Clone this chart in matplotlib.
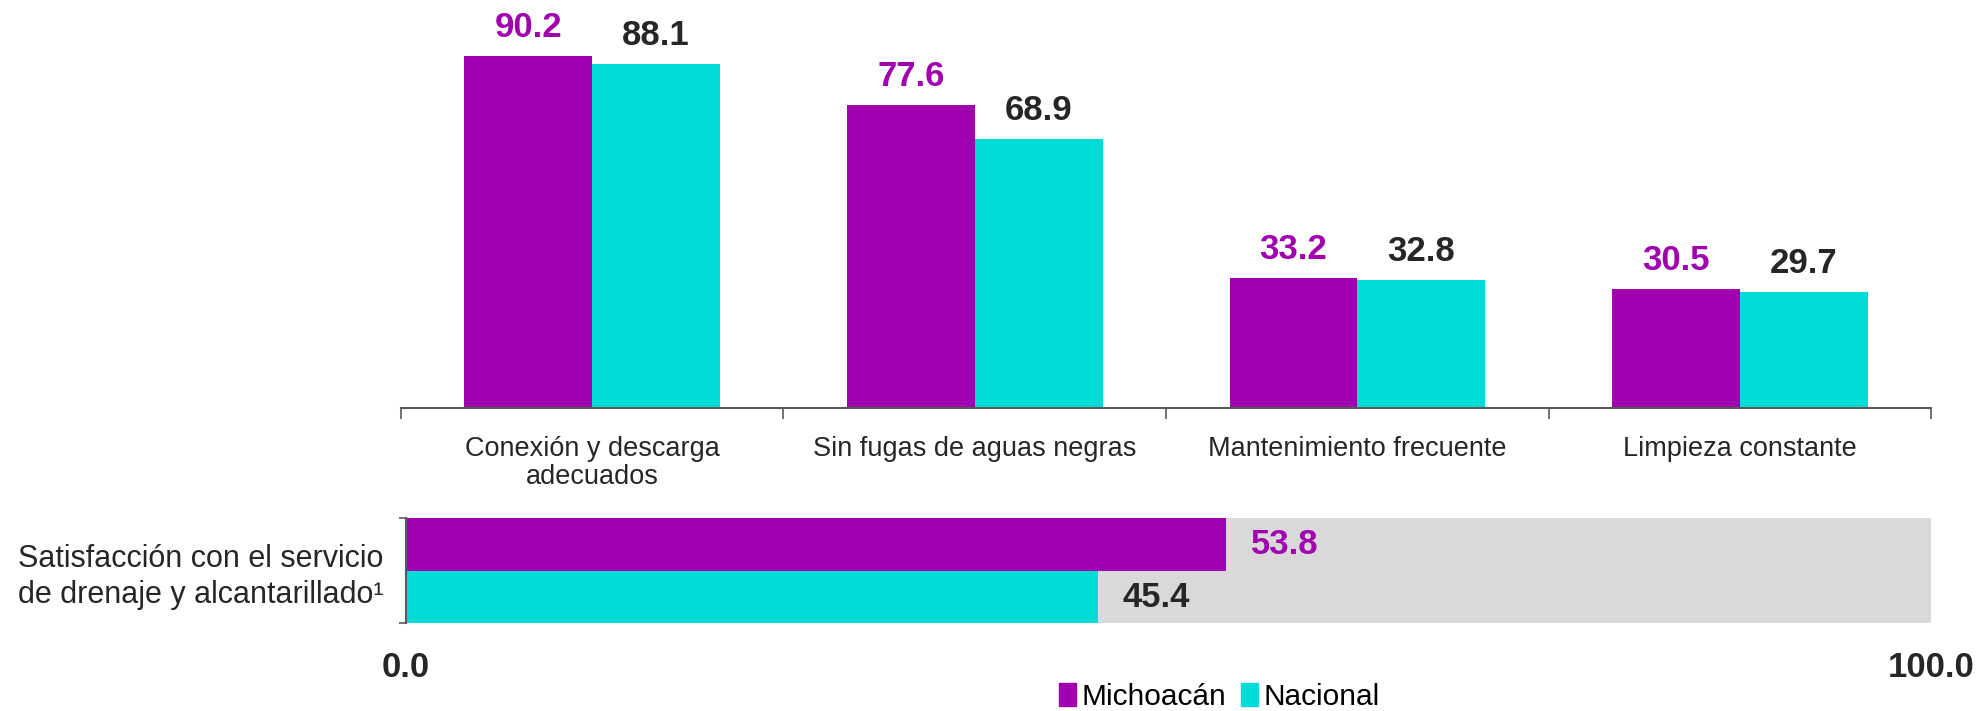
import numpy as np
import matplotlib
matplotlib.use("Agg")
import matplotlib.pyplot as plt
from matplotlib.patches import Patch

# data
categorias = ["Conexión y descarga\nadecuados", "Sin fugas de aguas negras",
              "Mantenimiento frecuente", "Limpieza constante"]
michoacan = [90.2, 77.6, 33.2, 30.5]
nacional = [88.1, 68.9, 32.8, 29.7]

satisf_label = "Satisfacción con el servicio\nde drenaje y alcantarillado¹"
satisf_michoacan = 53.8
satisf_nacional = 45.4

series_names = ["Michoacán", "Nacional"]

PURPLE = "#A000B0"
CYAN = "#00DCD8"
GRAY = "#D9D9D9"
DARK = "#262626"

plt.rcParams['font.family'] = ['Liberation Sans Narrow', 'Liberation Sans', 'DejaVu Sans']

fig = plt.figure(figsize=(19.83, 7.11), dpi=100)

# top chart: vertical grouped bars
ax = fig.add_axes([0.2022, 0.4262, 0.7716, 0.5485])
x = np.arange(len(categorias))
w = 0.334
b1 = ax.bar(x - w / 2, michoacan, w, color=PURPLE)
b2 = ax.bar(x + w / 2, nacional, w, color=CYAN)

for rect, v in zip(b1, michoacan):
    ax.annotate(f"{v:.1f}", (rect.get_x() + rect.get_width() / 2, v),
                xytext=(0, 9), textcoords="offset points", ha="center", va="bottom",
                fontsize=25, fontweight="bold", color=PURPLE)
for rect, v in zip(b2, nacional):
    ax.annotate(f"{v:.1f}", (rect.get_x() + rect.get_width() / 2, v),
                xytext=(0, 9), textcoords="offset points", ha="center", va="bottom",
                fontsize=25, fontweight="bold", color=DARK)

ax.set_xlim(-0.5, len(categorias) - 0.5)
ax.set_ylim(0, 100)
for s in ["top", "right", "left"]:
    ax.spines[s].set_visible(False)
ax.spines["bottom"].set_color("#595959")
ax.spines["bottom"].set_linewidth(1.5)
ax.set_yticks([])
ax.set_xticks(x)
ax.set_xticklabels(categorias, fontsize=19.5, color=DARK, linespacing=1.1)
ax.tick_params(axis="x", which="major", length=0, pad=20)
ax.set_xticks(np.arange(-0.5, len(categorias)), minor=True)
ax.tick_params(axis="x", which="minor", length=8, width=1.2, color="#595959", direction="out")

# bottom chart: horizontal bars with gray background
ax2 = fig.add_axes([0.2047, 0.1231, 0.7691, 0.1477])
ax2.barh(0.5, 100, height=2, color=GRAY)
ax2.barh(1, satisf_michoacan, height=1, color=PURPLE)
ax2.barh(0, satisf_nacional, height=1, color=CYAN)
ax2.text(satisf_michoacan + 1.6, 1, f"{satisf_michoacan:.1f}", va="center", ha="left",
         fontsize=25, fontweight="bold", color=PURPLE)
ax2.text(satisf_nacional + 1.6, 0, f"{satisf_nacional:.1f}", va="center", ha="left",
         fontsize=25, fontweight="bold", color=DARK)
ax2.set_xlim(0, 100)
ax2.set_ylim(-0.5, 1.5)
for s in ["top", "right", "bottom"]:
    ax2.spines[s].set_visible(False)
ax2.spines["left"].set_color("#595959")
ax2.spines["left"].set_linewidth(1.5)
ax2.set_yticks([0.5])
ax2.set_yticklabels([satisf_label], fontsize=22, color=DARK, ha="center", linespacing=1.25)
ax2.tick_params(axis="y", which="major", length=0, pad=148)
ax2.set_yticks([-0.5, 1.5], minor=True)
ax2.tick_params(axis="y", which="minor", length=5, width=1.2, color="#595959")
ax2.set_xticks([0, 100])
ax2.set_xticklabels(["0.0", "100.0"], fontsize=25, fontweight="bold", color=DARK)
ax2.tick_params(axis="x", length=0, pad=20)

handles = [Patch(color=PURPLE), Patch(color=CYAN)]
fig.legend(handles, series_names, loc="center", bbox_to_anchor=(0.615, 0.02), ncol=2,
           frameon=False, fontsize=21.5, handlelength=0.55, handleheight=0.85,
           handletextpad=0.2, columnspacing=0.5)

fig.savefig("out.png", dpi=100)
